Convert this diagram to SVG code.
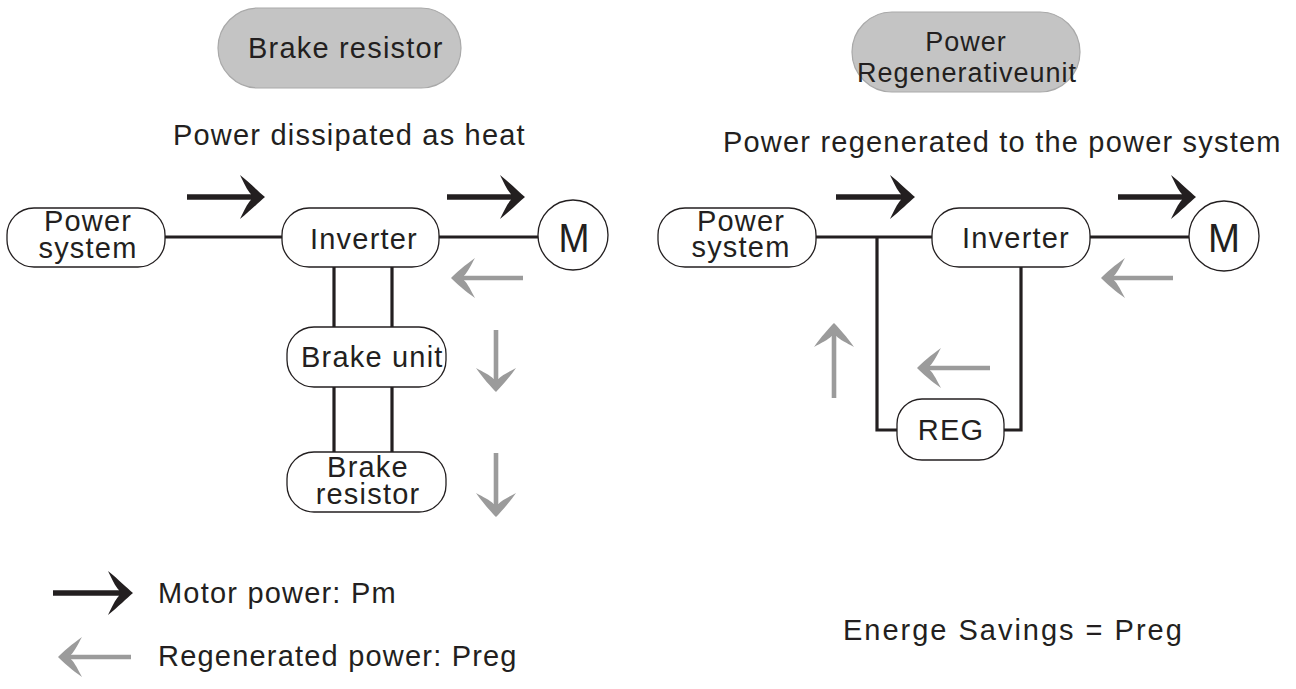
<svg xmlns="http://www.w3.org/2000/svg" width="1296" height="689" viewBox="0 0 1296 689">
<defs>
<style>
.t{font-family:"Liberation Sans",Arial,sans-serif;fill:#231f20;font-size:29px;letter-spacing:1.2px}
.m{font-size:41px;letter-spacing:0}
.box{fill:#fff;stroke:#231f20;stroke-width:1.3}
.pill{fill:#c4c4c4;stroke:#a9a9a9;stroke-width:1.2}
.wire{fill:none;stroke:#231f20;stroke-width:3.2}
.gshaft{stroke:#9b9b9b;stroke-width:4.6;fill:none}
.bshaft{stroke:#231f20;stroke-width:5.6;fill:none}
</style>
<path id="blackHead" d="M0,0 C-6,-5 -15,-14 -25,-22 C-21,-14 -18,-7 -14,-2.8 L-14,2.8 C-18,7 -21,14 -25,22 C-15,14 -6,5 0,0 Z" fill="#231f20"/>
<path id="grayHead" d="M0,0 C5,-5 14,-13 24,-20 C20,-13 17,-6 13,-2.3 L13,2.3 C17,6 20,13 24,20 C14,13 5,5 0,0 Z" fill="#9b9b9b"/>
</defs>

<g id="connectors">
<line class="wire" x1="165" y1="237" x2="282" y2="237"/>
<line class="wire" x1="439" y1="237" x2="538" y2="237"/>
<line class="wire" x1="334" y1="267" x2="334" y2="327"/>
<line class="wire" x1="392" y1="267" x2="392" y2="327"/>
<line class="wire" x1="334" y1="387" x2="334" y2="452"/>
<line class="wire" x1="392" y1="387" x2="392" y2="452"/>
<line class="wire" x1="816" y1="237" x2="932" y2="237"/>
<line class="wire" x1="1090" y1="237" x2="1189" y2="237"/>
<polyline class="wire" points="877,237 877,430 897,430"/>
<polyline class="wire" points="1021,267 1021,430 1004,430"/>
</g>

<g id="flow-arrows">
<line class="bshaft" x1="187" y1="197" x2="253" y2="197"/>
<use href="#blackHead" x="265" y="197"/>
<line class="bshaft" x1="447" y1="197" x2="513" y2="197"/>
<use href="#blackHead" x="525" y="197"/>
<line class="bshaft" x1="836" y1="197" x2="903" y2="197"/>
<use href="#blackHead" x="915" y="197"/>
<line class="bshaft" x1="1118" y1="197" x2="1184" y2="197"/>
<use href="#blackHead" x="1196" y="197"/>

<line class="gshaft" x1="461" y1="278" x2="523" y2="278"/>
<use href="#grayHead" x="451" y="278"/>
<line class="gshaft" x1="1111" y1="278" x2="1173" y2="278"/>
<use href="#grayHead" x="1101" y="278"/>
<line class="gshaft" x1="927" y1="368" x2="990" y2="368"/>
<use href="#grayHead" x="917" y="368"/>
<line class="gshaft" x1="496" y1="330" x2="496" y2="384"/>
<use href="#grayHead" transform="translate(496,392) rotate(-90)"/>
<line class="gshaft" x1="496" y1="453" x2="496" y2="509"/>
<use href="#grayHead" transform="translate(496,517) rotate(-90)"/>
<line class="gshaft" x1="834" y1="331" x2="834" y2="398"/>
<use href="#grayHead" transform="translate(834,323) rotate(90)"/>
</g>

<g id="title-left">
<rect class="pill" x="218" y="8" width="243" height="80" rx="40"/>
<text class="t" x="248" y="58">Brake resistor</text>
</g>
<text class="t" x="173" y="145">Power dissipated as heat</text>

<g id="title-right">
<rect class="pill" x="852" y="12" width="228" height="80" rx="40"/>
<text class="t" style="font-size:27px;letter-spacing:1px" text-anchor="middle"><tspan x="966" y="51">Power</tspan><tspan x="967" y="82">Regenerativeunit</tspan></text>
</g>
<text class="t" x="723" y="152">Power regenerated to the power system</text>

<g id="power-system-left">
<rect class="box" x="7" y="208" width="158" height="59" rx="27"/>
<text class="t" text-anchor="middle"><tspan x="88" y="231">Power</tspan><tspan x="88" y="258">system</tspan></text>
</g>
<g id="inverter-left">
<rect class="box" x="282" y="208" width="157" height="59" rx="27"/>
<text class="t" x="364" y="249" text-anchor="middle">Inverter</text>
</g>
<g id="motor-left">
<circle class="box" cx="573" cy="235" r="35"/>
<text class="t m" x="574" y="252" text-anchor="middle" textLength="31" lengthAdjust="spacingAndGlyphs">M</text>
</g>
<g id="brake-unit">
<rect class="box" x="287" y="327" width="159" height="60" rx="27"/>
<text class="t" x="301" y="367">Brake unit</text>
</g>
<g id="brake-resistor">
<rect class="box" x="287" y="452" width="159" height="60" rx="27"/>
<text class="t" text-anchor="middle"><tspan x="368" y="477">Brake</tspan><tspan x="368" y="504">resistor</tspan></text>
</g>

<g id="power-system-right">
<rect class="box" x="658" y="208" width="158" height="59" rx="27"/>
<text class="t" text-anchor="middle"><tspan x="741" y="231">Power</tspan><tspan x="741" y="257">system</tspan></text>
</g>
<g id="inverter-right">
<rect class="box" x="932" y="208" width="158" height="59" rx="27"/>
<text class="t" x="1016" y="248" text-anchor="middle">Inverter</text>
</g>
<g id="motor-right">
<circle class="box" cx="1224" cy="236" r="35"/>
<text class="t m" x="1224" y="252" text-anchor="middle" textLength="32" lengthAdjust="spacingAndGlyphs">M</text>
</g>
<g id="reg">
<rect class="box" x="897" y="399" width="107" height="61" rx="25"/>
<text class="t" x="951" y="440" text-anchor="middle">REG</text>
</g>

<g id="legend">
<line class="bshaft" x1="53" y1="593" x2="121" y2="593"/>
<use href="#blackHead" x="133" y="593"/>
<text class="t" x="158" y="603">Motor power: Pm</text>
<line class="gshaft" x1="68" y1="657" x2="131" y2="657"/>
<use href="#grayHead" x="58" y="657"/>
<text class="t" x="158" y="666">Regenerated power: Preg</text>
</g>
<text class="t" x="843" y="640" textLength="340" lengthAdjust="spacing">Energe Savings = Preg</text>
</svg>
